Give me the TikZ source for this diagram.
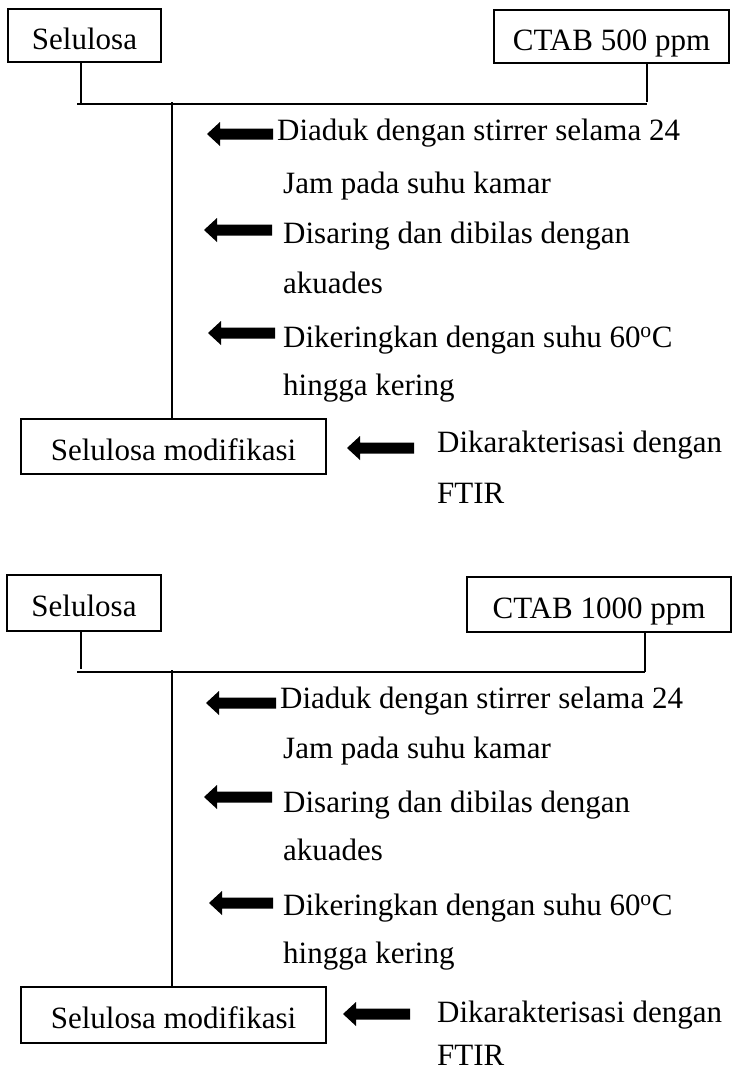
\documentclass[tikz,border=0pt]{standalone}
\usepackage{fontspec}
\setmainfont{Liberation Serif}
\newcommand\blockarrow[3]{%
  \fill (#1,#3) -- ({#1+13},{#3-12}) -- ({#1+13},{#3-5.5}) -- (#2,{#3-5.5})
     -- (#2,{#3+5.5}) -- ({#1+13},{#3+5.5}) -- ({#1+13},{#3+12}) -- cycle;}
\begin{document}
\begin{tikzpicture}[x=1pt,y=-1pt,
  box/.style={draw,line width=1.6pt,inner sep=0pt,text height=27pt,text depth=0pt,
    font=\fontsize{31}{37}\selectfont},
  txt/.style={anchor=base west,inner sep=0pt,font=\fontsize{31}{37}\selectfont},
  conn/.style={line width=1.1pt}]
\useasboundingbox (0,0) rectangle (732,1072);
% ---------- top diagram ----------
\node[box,minimum width=153,minimum height=53] (sel1) at (84.5,35.5) {Selulosa};
\node[box,minimum width=235,minimum height=53] (ctab1) at (611.5,36.5) {CTAB 500 ppm};
\node[box,minimum width=305,minimum height=55] (mod1) at (173.5,446.5) {Selulosa modifikasi};
\coordinate (s1x) at (81,0);
\coordinate (c1x) at (647,0);
\coordinate (hl1) at (77,104);
\coordinate (hr1) at (647,104);
\coordinate (m1) at (172,102);
\draw[conn] (hl1) -- (hr1);
\draw[conn] (sel1.south -| s1x) -- ([yshift=1]s1x |- hl1);
\draw[conn] (ctab1.south -| c1x) -- ([yshift=2]c1x |- hr1);
\draw[conn] (m1) -- (m1 |- mod1.north);
\blockarrow{207}{273}{134}
\blockarrow{204}{272}{230}
\blockarrow{208}{275}{333}
\blockarrow{347}{414}{448}
\node[txt] (t11) at (277,140) {Diaduk dengan stirrer selama 24};
\node[txt] (t12) at (283,193) {Jam pada suhu kamar};
\node[txt] (t13) at (283,243) {Disaring dan dibilas dengan};
\node[txt] (t14) at (283,293) {akuades};
\node[txt] (t15) at (283,347) {Dikeringkan dengan suhu 60\textsuperscript{o}C};
\node[txt] (t16) at (283,395) {hingga kering};
\node[txt] (t17) at (437,452) {Dikarakterisasi dengan};
\node[txt] (t18) at (437,503) {FTIR};
% ---------- bottom diagram ----------
\node[box,minimum width=154,minimum height=56] (sel2) at (84,603) {Selulosa};
\node[box,minimum width=264,minimum height=55] (ctab2) at (599,604.5) {CTAB 1000 ppm};
\node[box,minimum width=305,minimum height=56] (mod2) at (173.5,1015) {Selulosa modifikasi};
\coordinate (s2x) at (81,0);
\coordinate (c2x) at (645,0);
\coordinate (hl2) at (77,672);
\coordinate (hr2) at (645,672);
\coordinate (m2) at (172,670);
\draw[conn] (hl2) -- (hr2);
\draw[conn] (sel2.south -| s2x) -- ([yshift=3]s2x |- hl2);
\draw[conn] (ctab2.south -| c2x) -- (c2x |- hr2);
\draw[conn] (m2) -- (m2 |- mod2.north);
\blockarrow{206}{276}{703}
\blockarrow{204}{272}{797}
\blockarrow{209}{273}{903}
\blockarrow{343}{410}{1014}
\node[txt] (t21) at (280,708) {Diaduk dengan stirrer selama 24};
\node[txt] (t22) at (283,758) {Jam pada suhu kamar};
\node[txt] (t23) at (283,812) {Disaring dan dibilas dengan};
\node[txt] (t24) at (283,860) {akuades};
\node[txt] (t25) at (283,915) {Dikeringkan dengan suhu 60\textsuperscript{o}C};
\node[txt] (t26) at (283,963) {hingga kering};
\node[txt] (t27) at (437,1022) {Dikarakterisasi dengan};
\node[txt] (t28) at (437,1065) {FTIR};
\end{tikzpicture}
\end{document}
